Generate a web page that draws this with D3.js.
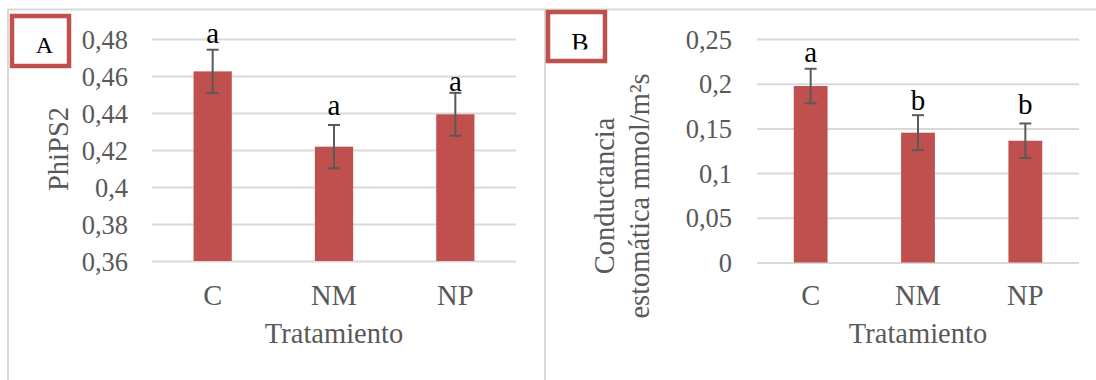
<!DOCTYPE html>
<html>
<head>
<meta charset="utf-8">
<script src="https://cdn.jsdelivr.net/npm/d3@7"></script>
<style>
  html, body { margin: 0; padding: 0; background: #fff; }
  svg { display: block; }
</style>
</head>
<body>
<svg id="chart" width="1096" height="380"></svg>
<script>
// ---------- data ----------
const categories = ["C", "NM", "NP"];

const phiValues = [0.4625, 0.4218, 0.4393];
const phiErrors = [0.0117, 0.0117, 0.0116];
const phiLetters = ["a", "a", "a"];
const phiLetterPos = [0.4778, 0.4389, 0.4519];
const phiTickValues = [0.36, 0.38, 0.40, 0.42, 0.44, 0.46, 0.48];
const phiTickLabels = ["0,36", "0,38", "0,4", "0,42", "0,44", "0,46", "0,48"];

const condValues = [0.1974, 0.1452, 0.1362];
const condErrors = [0.0193, 0.0196, 0.0193];
const condLetters = ["a", "b", "b"];
const condLetterPos = [0.2243, 0.1706, 0.1661];
const condTickValues = [0, 0.05, 0.10, 0.15, 0.20, 0.25];
const condTickLabels = ["0", "0,05", "0,1", "0,15", "0,2", "0,25"];

const xTitle = "Tratamiento";
const panelA = { label: "A", yTitle: ["PhiPS2"] };
const panelB = { label: "B", yTitle: ["Conductancia", "estomática mmol/m²s"] };

// ---------- style ----------
const BAR = "#c0504d";
const GRID = "#d9d9d9";
const TXT = "#595959";
const ERR = "#5a5a5a";
const SERIF = "'Liberation Serif', 'Times New Roman', serif";

const svg = d3.select("#chart");

// frame lines
const frame = svg.append("g");
frame.append("line").attr("x1", 8).attr("x2", 1096).attr("y1", 9.5).attr("y2", 9.5)
  .attr("stroke", GRID).attr("stroke-width", 2);
frame.append("line").attr("x1", 8).attr("x2", 8).attr("y1", 9).attr("y2", 380)
  .attr("stroke", GRID).attr("stroke-width", 2);
frame.append("line").attr("x1", 545).attr("x2", 545).attr("y1", 9).attr("y2", 380)
  .attr("stroke", GRID).attr("stroke-width", 2);

function drawPanel(cfg) {
  const g = svg.append("g");
  const x = d3.scaleBand().domain(categories).range([cfg.left, cfg.right]).padding(0);
  const y = d3.scaleLinear().domain(cfg.domain).range([cfg.bottom, cfg.top]);
  const bw = x.bandwidth() * 0.315;
  const cx = c => x(c) + x.bandwidth() / 2;

  // gridlines
  const grid = g.append("g").attr("transform", `translate(${cfg.left},0)`)
    .call(d3.axisLeft(y).tickValues(cfg.tickValues).tickSize(-(cfg.right - cfg.left)).tickFormat(""));
  grid.select(".domain").remove();
  grid.selectAll(".tick line").attr("stroke", GRID).attr("stroke-width", 2);

  // tick labels
  const ax = g.append("g").attr("transform", `translate(${cfg.labelRight},0)`)
    .call(d3.axisLeft(y).tickValues(cfg.tickValues).tickSize(0).tickPadding(0)
      .tickFormat((d, i) => cfg.tickLabels[i]));
  ax.attr("font-family", null).attr("font-size", null);
  ax.select(".domain").remove();
  ax.selectAll(".tick line").remove();
  ax.selectAll(".tick text").attr("fill", TXT)
    .style("font-family", SERIF).style("font-size", "26.5px").attr("dy", "0.34em");

  // bars
  g.selectAll("rect.bar").data(categories).join("rect").attr("class", "bar")
    .attr("x", c => cx(c) - bw / 2).attr("width", bw)
    .attr("y", (c, i) => y(cfg.values[i]))
    .attr("height", (c, i) => y(cfg.domain[0]) - y(cfg.values[i]))
    .attr("fill", BAR);

  // error bars
  const eb = g.selectAll("g.err").data(categories).join("g").attr("class", "err")
    .attr("stroke", ERR).attr("stroke-width", 2);
  eb.append("line").attr("x1", c => cx(c)).attr("x2", c => cx(c))
    .attr("y1", (c, i) => y(cfg.values[i] + cfg.errors[i]))
    .attr("y2", (c, i) => y(cfg.values[i] - cfg.errors[i]));
  eb.append("line").attr("x1", c => cx(c) - 6).attr("x2", c => cx(c) + 6)
    .attr("y1", (c, i) => y(cfg.values[i] + cfg.errors[i]))
    .attr("y2", (c, i) => y(cfg.values[i] + cfg.errors[i]));
  eb.append("line").attr("x1", c => cx(c) - 6).attr("x2", c => cx(c) + 6)
    .attr("y1", (c, i) => y(cfg.values[i] - cfg.errors[i]))
    .attr("y2", (c, i) => y(cfg.values[i] - cfg.errors[i]));

  // significance letters
  g.selectAll("text.sig").data(categories).join("text").attr("class", "sig")
    .attr("x", c => cx(c)).attr("y", (c, i) => y(cfg.letterPos[i]))
    .attr("text-anchor", "middle").attr("fill", "#000")
    .style("font-family", SERIF).style("font-size", "29px")
    .text((c, i) => cfg.letters[i]);

  // category labels
  const xa = g.append("g").attr("transform", `translate(0,${cfg.catBaseline})`)
    .call(d3.axisBottom(x).tickSize(0).tickPadding(0));
  xa.attr("font-family", null).attr("font-size", null);
  xa.select(".domain").remove();
  xa.selectAll(".tick line").remove();
  xa.selectAll(".tick text").attr("fill", TXT)
    .style("font-family", SERIF).style("font-size", "28.5px").attr("dy", 0).attr("y", 0);

  // x title
  g.append("text").attr("x", (cfg.left + cfg.right) / 2).attr("y", 343)
    .attr("text-anchor", "middle").attr("fill", TXT)
    .style("font-family", SERIF).style("font-size", "28.5px").text(xTitle);

  // y title
  cfg.yTitle.forEach((t, i) => {
    g.append("text")
      .attr("transform", `translate(${cfg.yTitleX[i]},${cfg.yTitleY}) rotate(-90)`)
      .attr("text-anchor", "middle").attr("fill", TXT)
      .style("font-family", SERIF).style("font-size", "28.5px").text(t);
  });

  // label box
  const b = cfg.box;
  const clipId = "clip" + cfg.label;
  svg.append("clipPath").attr("id", clipId).append("rect")
    .attr("x", b.x).attr("y", b.y).attr("width", b.w).attr("height", b.clipH);
  svg.append("rect").attr("x", b.x + 2).attr("y", b.y + 2).attr("width", b.w - 4).attr("height", b.h - 4)
    .attr("fill", "#fff").attr("stroke", BAR).attr("stroke-width", 4.5);
  svg.append("text").attr("clip-path", `url(#${clipId})`)
    .attr("x", b.tx).attr("y", b.ty).attr("text-anchor", "middle").attr("fill", "#000")
    .style("font-family", SERIF).style("font-size", b.fs + "px").text(cfg.label);
}

drawPanel({
  label: panelA.label, yTitle: panelA.yTitle,
  left: 152, right: 516, top: 39, bottom: 261, domain: [0.36, 0.48],
  labelRight: 128, catBaseline: 305,
  tickValues: phiTickValues, tickLabels: phiTickLabels,
  values: phiValues, errors: phiErrors, letters: phiLetters, letterPos: phiLetterPos,
  yTitleX: [68], yTitleY: 149,
  box: { x: 10, y: 14, w: 61, h: 54, clipH: 54, tx: 44.5, ty: 53, fs: 24 }
});

drawPanel({
  label: panelB.label, yTitle: panelB.yTitle,
  left: 757, right: 1079, top: 39, bottom: 262.5, domain: [0, 0.25],
  labelRight: 732, catBaseline: 305,
  tickValues: condTickValues, tickLabels: condTickLabels,
  values: condValues, errors: condErrors, letters: condLetters, letterPos: condLetterPos,
  yTitleX: [614, 649], yTitleY: 196,
  box: { x: 546, y: 10, w: 61, h: 53, clipH: 39.5, tx: 580, ty: 51, fs: 26 }
});
</script>
</body>
</html>
